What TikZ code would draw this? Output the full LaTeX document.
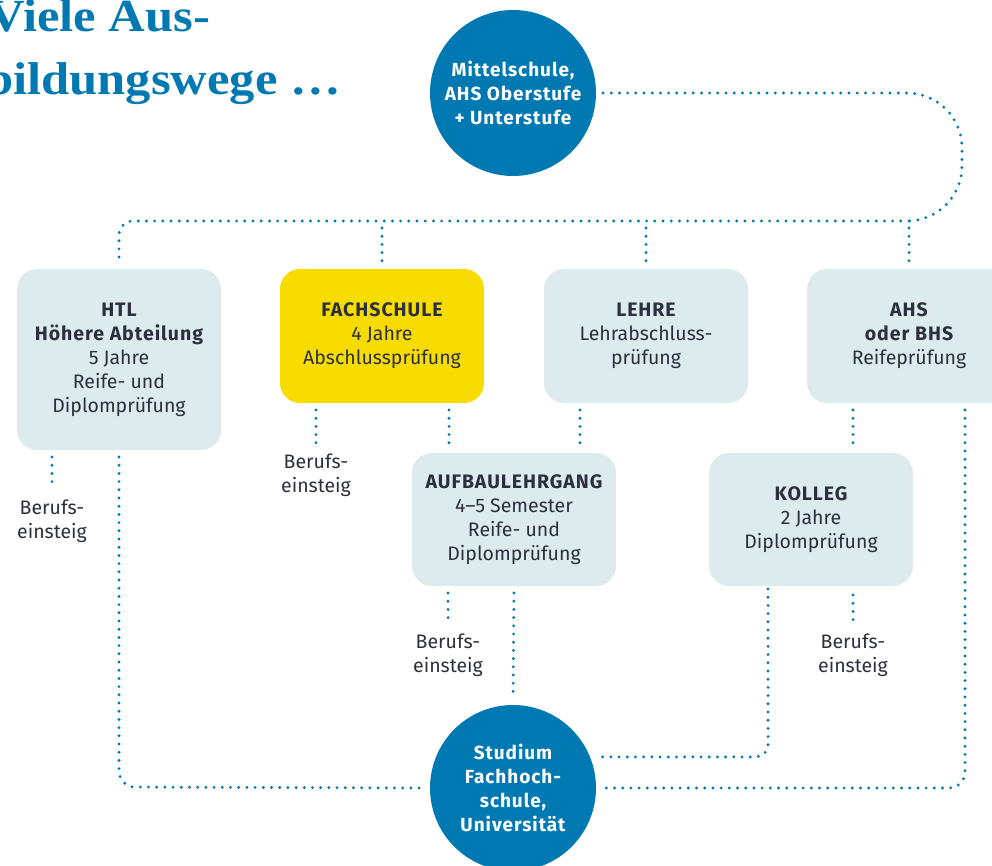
\documentclass[tikz,border=0pt]{standalone}
\usepackage{fontspec}
\setmainfont{Fira Sans}
\newfontfamily\titlefont[FakeStretch=1.1]{Liberation Serif}
\newfontfamily\spacedfont[LetterSpace=5]{Fira Sans}
\definecolor{brandblue}{HTML}{0079B2}
\definecolor{boxfill}{HTML}{DDEBEE}
\definecolor{yellowfill}{HTML}{F8DC00}
\definecolor{ink}{HTML}{2B303C}
\newcommand{\hd}[1]{{\spacedfont\bfseries #1}}
\begin{document}
\begin{tikzpicture}[x=1pt,y=-1pt,
  every node/.style={inner sep=0pt, outer sep=0pt},
  bodytext/.style={font=\fontsize{19.5}{24}\selectfont, text=ink, align=center},
  box/.style={bodytext, rectangle, rounded corners=20pt, fill=boxfill, minimum width=204pt},
  circ/.style={circle, fill=brandblue, minimum size=166pt, text=white, align=center,
    font=\spacedfont\bfseries\fontsize{19}{24}\selectfont},
  titletext/.style={text=brandblue, anchor=base east, font=\titlefont\bfseries\fontsize{46}{50}\selectfont},
  dots/.style={draw=brandblue, line width=3.2pt, line cap=round, dash pattern=on 0pt off 8.2pt},
  gap/.style={shorten <=7pt, shorten >=7pt}
]
\useasboundingbox (0,0) rectangle (992,866);

% title
\node[titletext] (t1) at (210,32) {Viele Aus-};
\node[titletext] (t2) at (341,95) {bildungswege …};

% circles
\node[circ] (top) at (513,93) {Mittelschule,\\AHS Oberstufe\\+ Unterstufe};
\node[circ] (bot) at (513,788) {Studium\\Fachhoch-\\schule,\\Universität};

% boxes
\node[box, minimum height=181pt] (htl) at (119,359.5)
  {\hd{HTL}\\\hd{Höhere Abteilung}\\5 Jahre\\Reife- und\\Diplomprüfung};
\node[box, fill=yellowfill, minimum height=134pt] (fach) at (382,336)
  {\hd{FACHSCHULE}\\4 Jahre\\Abschlussprüfung};
\node[box, minimum height=134pt] (lehre) at (646,336)
  {\hd{LEHRE}\\Lehrabschluss-\\prüfung};
\node[box, minimum height=134pt] (ahs) at (909,336)
  {\hd{AHS}\\\hd{oder BHS}\\Reifeprüfung};
\node[box, minimum height=133pt] (aufbau) at (514,519.5)
  {\hd{AUFBAULEHRGANG}\\4–5 Semester\\Reife- und\\Diplomprüfung};
\node[box, minimum height=133pt] (kolleg) at (811,519.5)
  {\hd{KOLLEG}\\2 Jahre\\Diplomprüfung};

% Berufseinstieg labels
\node[bodytext] (be1) at (52,521) {Berufs-\\einsteig};
\node[bodytext] (be2) at (316,475) {Berufs-\\einsteig};
\node[bodytext] (be3) at (448,655) {Berufs-\\einsteig};
\node[bodytext] (be4) at (853,655) {Berufs-\\einsteig};

% helper coordinates
\coordinate (rail) at (0,221);
\coordinate (xf) at (449,0);
\coordinate (xl) at (580,0);
\coordinate (xk) at (853,0);
\coordinate (xc) at (768,0);
\coordinate (xr) at (965,0);
\coordinate (rb) at (0,787);
\coordinate (arcx) at (962,0);

% top rail
\draw[dots, rounded corners=55pt, shorten <=7pt] (top.east) -- (arcx |- top.east) -- (arcx |- rail) -- (ahs.north |- rail);
\draw[dots, rounded corners=14pt, shorten >=6pt] (ahs.north |- rail) -- (htl.north |- rail) -- (htl.north);
\draw[dots, gap] (fach.north |- rail) -- (fach.north);
\draw[dots, gap] (lehre.north |- rail) -- (lehre.north);
\draw[dots, gap] (ahs.north |- rail) -- (ahs.north);

% downward links
\draw[dots, shorten <=7pt, shorten >=10pt] (htl.south -| be1) -- (be1.north);
\draw[dots, shorten <=7pt, shorten >=10pt] (fach.south -| be2) -- (be2.north);
\draw[dots, shorten <=7pt, shorten >=10pt] (aufbau.south -| be3) -- (be3.north);
\draw[dots, shorten <=9pt, shorten >=10pt] (kolleg.south -| be4) -- (be4.north);
\draw[dots, gap] (fach.south -| xf) -- (aufbau.north -| xf);
\draw[dots, gap] (lehre.south -| xl) -- (aufbau.north -| xl);
\draw[dots, gap] (ahs.south -| xk) -- (kolleg.north -| xk);
\draw[dots, gap] (aufbau.south) -- (bot.north);

% to Studium
\draw[dots, rounded corners=16pt, shorten <=7pt, shorten >=5pt] (htl.south) -- (htl.south |- rb) -- (bot.west);
\draw[dots, rounded corners=12pt, shorten <=3pt, shorten >=5pt] (kolleg.south -| xc) -- (xc |- bot.22) -- (bot.22);
\draw[dots, rounded corners=16pt, shorten <=7pt, shorten >=6pt] (ahs.south -| xr) -- (xr |- bot.east) -- (bot.east);
\end{tikzpicture}
\end{document}
